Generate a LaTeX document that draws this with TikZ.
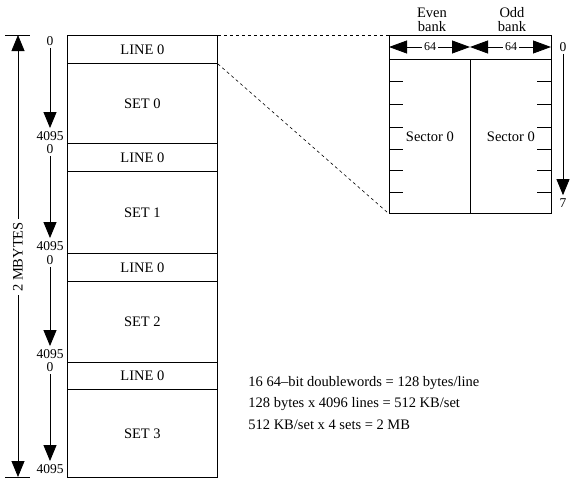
\documentclass[tikz,border=0pt]{standalone}
\usepackage{fontspec}
\setmainfont{Liberation Serif}
\usetikzlibrary{arrows.meta}
\begin{document}
\begin{tikzpicture}[x=1pt,y=-1pt,line width=0.8pt,
  every node/.style={font=\fontsize{14.5}{14}\selectfont, inner sep=0pt},
  tip/.style={-{Triangle[length=16pt,width=13pt]}},
  htip/.style={-{Triangle[length=18pt,width=13pt]}},
  box/.style={draw, minimum width=150pt, anchor=north west},
  lbl/.style={inner sep=0pt, font=\fontsize{13.5}{13}\selectfont},
  adr/.style={tip, shorten <=2pt, shorten >=3pt},
]
\useasboundingbox (0,0) rectangle (579,483);

% left memory column
\node[box, minimum height=28pt] (l0) at (67,35) {LINE 0};
\node[box, minimum height=80pt] (s0) at (67,63) {SET 0};
\node[box, minimum height=28pt] (l1) at (67,143) {LINE 0};
\node[box, minimum height=82pt] (s1) at (67,171) {SET 1};
\node[box, minimum height=28pt] (l2) at (67,253) {LINE 0};
\node[box, minimum height=81pt] (s2) at (67,281) {SET 2};
\node[box, minimum height=27pt] (l3) at (67,362) {LINE 0};
\node[box, minimum height=88pt] (s3) at (67,389) {SET 3};

% 2 MBYTES arrow
\coordinate (mbt) at (18,35);
\coordinate (mbb) at (18,477);
\draw (5,35) -- (30,35);
\draw (5,477) -- (30,477);
\node[rotate=90, inner sep=3pt] (mb) at (18,257) {2 MBYTES};
\draw[tip] (mb) -- (mbt);
\draw[tip] (mb) -- (mbb);

% per-set address arrows
\node[lbl] (za) at (50,41) {0};
\node[lbl] (fa) at (50,136) {4095};
\node[lbl] (zb) at (50,149) {0};
\node[lbl] (fb) at (50,246) {4095};
\node[lbl] (zc) at (50,260) {0};
\node[lbl] (fc) at (50,354) {4095};
\node[lbl] (zd) at (50,367) {0};
\node[lbl] (fd) at (50,469) {4095};
\draw[adr] (za) -- (fa);
\draw[adr] (zb) -- (fb);
\draw[adr] (zc) -- (fc);
\draw[adr] (zd) -- (fd);

% right detail
\node[draw, minimum width=162pt, minimum height=24pt, anchor=north west] (hdr) at (389,35) {};
\node[draw, minimum width=81pt, minimum height=154pt, anchor=north west] (se) at (389,59) {Sector 0};
\node[draw, minimum width=81pt, minimum height=154pt, anchor=north west] (so) at (470,59) {Sector 0};

\node[align=center] (eb) at (432,20) {Even\\bank};
\node[align=center] (ob) at (512,20) {Odd\\bank};

\coordinate (ha1) at (389,47);
\coordinate (ha2) at (470,47);
\coordinate (hb2) at (551,47);
\node[fill=white, inner sep=2pt, font=\fontsize{12}{12}\selectfont] (n64a) at (430,47) {64};
\node[fill=white, inner sep=2pt, font=\fontsize{12}{12}\selectfont] (n64b) at (511,47) {64};
\draw[htip] (n64a) -- (ha1);
\draw[htip] (n64a) -- (ha2);
\draw[htip] (n64b) -- (ha2);
\draw[htip] (n64b) -- (hb2);

\foreach \y in {81,104,127,149,170,192} {
  \draw (389,\y) -- (403,\y);
  \draw (537,\y) -- (551,\y);
}

\node[lbl] (rz) at (563,47) {0};
\node[lbl] (rs) at (563,203) {7};
\draw[adr] (rz) -- (rs);

% zoom lines
\draw[dashed, line width=0.6pt] (l0.north east) -- (hdr.north west);
\draw[dashed, line width=0.6pt] (l0.south east) -- (se.south west);

% notes
\node[anchor=west] (t1) at (248,383) {16 64--bit doublewords = 128 bytes/line};
\node[anchor=west] (t2) at (248,404) {128 bytes x 4096 lines = 512 KB/set};
\node[anchor=west] (t3) at (248,425) {512 KB/set x 4 sets = 2 MB};
\end{tikzpicture}
\end{document}
